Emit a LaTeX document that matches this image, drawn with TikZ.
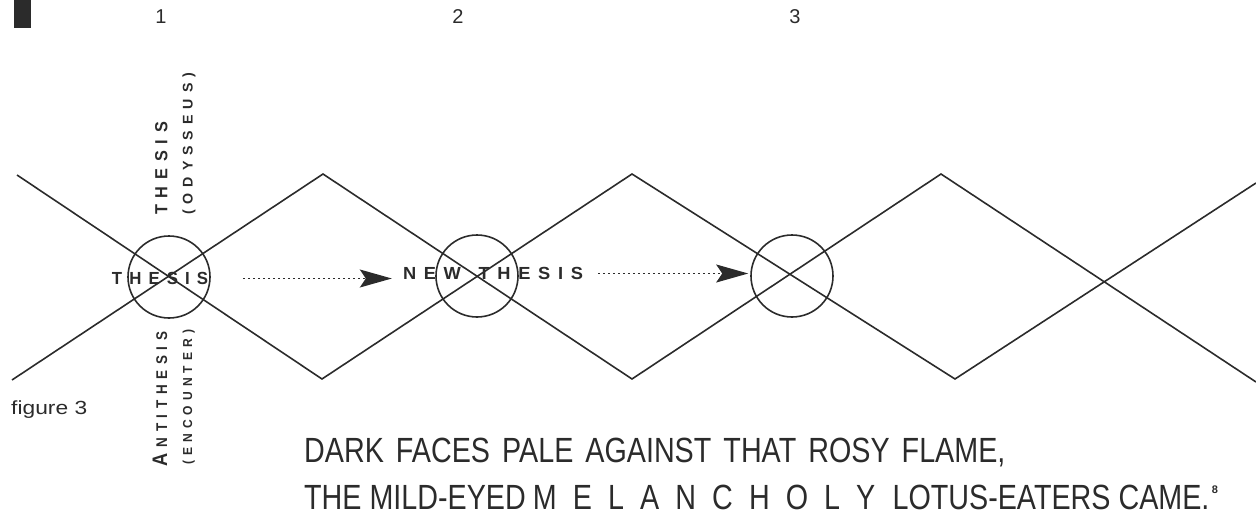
\documentclass[tikz,border=0pt]{standalone}
\usepackage{fontspec}
\setmainfont{Liberation Sans}
\usetikzlibrary{arrows.meta}
\definecolor{ink}{HTML}{2B2B2B}
% stretch or squeeze a label to a given length, keeping its height
\newcommand\fitw[2]{\resizebox{#1}{\height}{#2}}
% condensed verse setting
\newcommand\cond[1]{\scalebox{0.82}[1]{#1}}
\newcommand\lsp{\hspace{0.42em}}
\newcommand\wsp{\hspace{0.55em}}
\newcommand\vsp{\hspace{0.42em}}
\newcommand\msp{\hspace{0.56em}}
\begin{document}
\begin{tikzpicture}[x=1pt,y=-1pt,
  zz/.style={draw=ink, line width=1.6pt, line join=miter},
  ring/.style={circle, draw=ink, line width=1.6pt, minimum size=82pt, inner sep=0pt},
  lab/.style={text=ink, inner sep=0pt, font=\bfseries\fontsize{17.5}{17.5}\selectfont,
              text height=12.5pt, text depth=0pt},
  sublab/.style={text=ink, inner sep=0pt, font=\bfseries\fontsize{14}{14}\selectfont,
              text height=10pt, text depth=0pt},
  num/.style={text=ink, inner sep=0pt, font=\fontsize{20}{20}\selectfont},
  verse/.style={text=ink, inner sep=0pt, anchor=base west, font=\fontsize{35}{35}\selectfont},
  darrow/.style={draw=ink, line width=1.3pt, dash pattern=on 1.3pt off 3.7pt,
              -{Stealth[length=32pt, width=18pt, inset=6pt]}}
]
\useasboundingbox (0,0) rectangle (1256,519);

% corner mark
\fill[ink] (14,0) rectangle (31,28);

% column numbers
\node[num] (n1) at (161,17) {1};
\node[num] (n2) at (458,17) {2};
\node[num] (n3) at (795,17) {3};

% the two crossing zigzags
\draw[zz] (17,175) -- (322,379) -- (632,174) -- (955,379) -- (1256,183);
\draw[zz] (12,380) -- (323,174) -- (632,379) -- (941,174) -- (1256,382);

% rings at the crossings
\node[ring] (c1) at (169,277) {};
\node[ring] (c2) at (477,276) {};
\node[ring] (c3) at (792,276) {};

% vertical labels on the first crossing
\node[lab, rotate=90, anchor=west] (vth) at (161,215) {\fitw{93pt}{T\lsp H\lsp E\lsp S\lsp I\lsp S}};
\node[sublab, rotate=90, anchor=west] (vod) at (187.5,215) {\fitw{142pt}{(\lsp O\lsp D\lsp Y\lsp S\lsp S\lsp E\lsp U\lsp S\lsp )}};
\node[lab, rotate=90, anchor=west, text height=11pt] (vant) at (161.5,467)
  {\fitw{135pt}{{\fontsize{21}{21}\selectfont A}\lsp\fontsize{15.5}{15.5}\selectfont N\lsp T\lsp I\lsp T\lsp H\lsp E\lsp S\lsp I\lsp S}};
\node[sublab, rotate=90, anchor=west, text height=9pt] (venc) at (187.5,465)
  {\fitw{135pt}{\fontsize{13}{13}\selectfont(\lsp E\lsp N\lsp C\lsp O\lsp U\lsp N\lsp T\lsp E\lsp R\lsp )}};

% horizontal labels and the arrows between them
\node[lab] (th) at (160,278.5) {\fitw{96pt}{T\lsp H\lsp E\lsp S\lsp I\lsp S}};
\node[lab] (nth) at (493,273.5) {\fitw{180pt}{N\lsp E\lsp W\wsp\lsp T\lsp H\lsp E\lsp S\lsp I\lsp S}};
\draw[darrow, shorten <=35pt, shorten >=11pt] (th.east) -- (th.east -| nth.west);
\draw[darrow, shorten <=15pt, shorten >=2pt] (nth.east) -- (nth.east -| c3.west);

% caption
\node[text=ink, inner sep=0pt, anchor=base west, font=\fontsize{19}{19}\selectfont] (cap) at (11,414) {\fitw{76pt}{figure 3}};

% verse
\node[verse] (v1) at (304,462) {\cond{DARK\vsp FACES\vsp PALE\vsp AGAINST\vsp THAT\vsp ROSY\vsp FLAME,}};
\node[verse] (v2) at (304,509) {\cond{THE MILD-EYED\hspace{0.25em}M\msp E\msp L\msp A\msp N\msp C\msp H\msp O\msp L\msp Y\hspace{0.6em}LOTUS-EATERS CAME.}};
\node[text=ink, inner sep=0pt, anchor=base west, font=\bfseries\fontsize{11}{11}\selectfont] (fn) at (v2.north east) [yshift=-9pt, xshift=2pt] {8};
\end{tikzpicture}
\end{document}
